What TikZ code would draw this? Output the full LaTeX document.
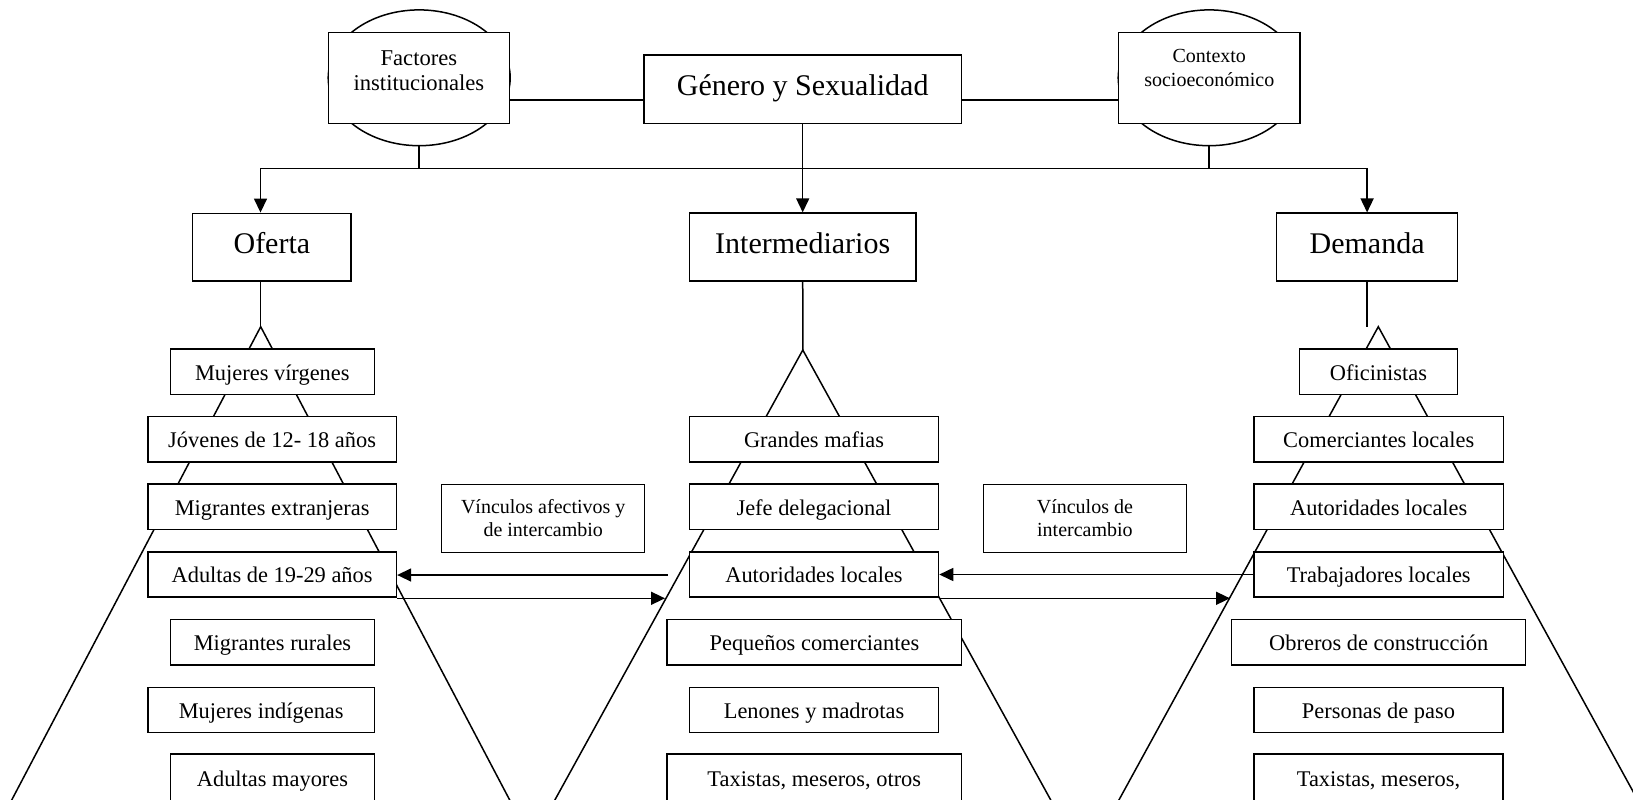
\documentclass[tikz,border=0pt]{standalone}
\usepackage{fontspec}
\setmainfont{Liberation Serif}
\usetikzlibrary{graphs}
\usetikzlibrary{arrows.meta}
\usetikzlibrary{shapes.geometric}

\tikzset{
    >={Triangle[length=7pt,width=6.5pt]},
    caja/.style={draw, fill=white, inner sep=1pt, minimum width=#1,
                 minimum height=22.6pt, text height=10pt, text depth=1.6pt,
                 font=\fontsize{11.2}{13}\selectfont},
    grande/.style={draw, fill=white, inner sep=1pt, minimum width=#1,
                   minimum height=33.9pt, text height=9pt, text depth=2.4pt,
                   font=\fontsize{15}{18}\selectfont},
    vinculo/.style={draw, fill=white, align=center, minimum width=101.5pt,
                    minimum height=34pt, font=\fontsize{10}{11.7}\selectfont},
    marco/.style={draw, fill=white, minimum width=90.6pt, minimum height=45.3pt},
    circulo/.style={draw, ellipse, minimum width=91pt, minimum height=67.9pt,
                    inner sep=0pt, outer sep=0pt},
    rotulo/.style={anchor=north, align=center, inner sep=0pt}
}

\begin{document}
\begin{tikzpicture}[x=0.5pt, y=-0.5pt, line width=0.75pt]
        \useasboundingbox (0,0) rectangle (1633,799);
        \clip (0,0) rectangle (1633,799);

        \coordinate (apexO) at (260.7, 326.7);
        \coordinate (apexI) at (802.8, 350);
        \coordinate (apexD) at (1378.3, 326.7);
        \coordinate (stemD) at (1367.1, 326.7);

        \draw (-14.6, 850) -- (apexO) -- (536, 850);
        \draw (527.3, 850) -- (apexI) -- (1078.3, 850);
        \draw (1091.5, 850) -- (apexD) -- (1665.1, 850);

        \node[circulo] (elF) at (419.2, 77.8)  {};
        \node[circulo] (elC) at (1209.2, 77.8) {};

        \node[marco, label={[rotulo, yshift=-8.8pt, font=\fontsize{11.3}{12.9}\selectfont]north:Factores\\institucionales}]
            (fac) at (418.9, 78) {};
        \node[marco, label={[rotulo, yshift=-8.5pt, font=\fontsize{10}{11.7}\selectfont]north:Contexto\\socioeconómico}]
            (ctx) at (1209.3, 78) {};
        \node[grande=158.8pt, minimum height=34.2pt] (gen) at (802.7, 89.2) {Género y Sexualidad};

        \node[grande=79.2pt]  (ofe)   at (271.9, 247.2)  {Oferta};
        \node[grande=113.2pt] (inter) at (802.7, 247)    {Intermediarios};
        \node[grande=90.6pt]  (dem)   at (1367.1, 247.1) {Demanda};

        \node[caja=102pt]   (vir)  at (272.3, 371.7) {Mujeres vírgenes};
        \node[caja=124.3pt] (jov)  at (272.1, 439.2) {Jóvenes de 12- 18 años};
        \node[caja=124.3pt] (mext) at (272.1, 506.8) {Migrantes extranjeras};
        \node[caja=124.3pt] (adu)  at (272.1, 574.5) {Adultas de 19-29 años};
        \node[caja=102.2pt] (mrur) at (272.5, 642.2) {Migrantes rurales};
        \node[caja=113.4pt] (mind) at (261.2, 710)   {Mujeres indígenas};
        \node[caja=102.2pt, minimum height=24pt] (amay) at (272.5, 778) {Adultas mayores};

        \node[caja=124.5pt] (maf)  at (814, 439.2)   {Grandes mafias};
        \node[caja=124.5pt] (jefe) at (814, 506.8)   {Jefe delegacional};
        \node[caja=124.5pt] (autI) at (814, 574.5)   {Autoridades locales};
        \node[caja=147.3pt] (peq)  at (814.4, 642.2) {Pequeños comerciantes};
        \node[caja=124.5pt] (len)  at (814, 710)     {Lenones y madrotas};
        \node[caja=147.1pt, minimum height=24pt] (taxI) at (814.3, 778) {Taxistas, meseros, otros};

        \node[caja=79.2pt]  (ofi)  at (1378.5, 371.7) {Oficinistas};
        \node[caja=124.6pt] (com)  at (1378.7, 439.2) {Comerciantes locales};
        \node[caja=124.6pt] (autD) at (1378.7, 506.8) {Autoridades locales};
        \node[caja=124.6pt] (trab) at (1378.7, 574.5) {Trabajadores locales};
        \node[caja=147pt]   (obr)  at (1378.7, 642.2) {Obreros de construcción};
        \node[caja=124.6pt] (per)  at (1378.5, 710)   {Personas de paso};
        \node[caja=124.6pt, minimum height=24pt] (taxD) at (1378.5, 778) {Taxistas, meseros,};

        \node[vinculo] (vaf) at (543.2, 518.3)  {Vínculos afectivos y\\de intercambio};
        \node[vinculo] (vin) at (1084.9, 518.3) {Vínculos de\\intercambio};

        \coordinate (lnk)    at (802.7, 100);
        \coordinate (barO)   at (260.5, 168.3);
        \coordinate (barD)   at (1367.1, 168.3);
        \coordinate (vuelta) at (667.8, 575);
        \coordinate (ida)    at (665, 598.3);
        \coordinate (ida2)   at (1230, 598.3);

        \draw (fac.east |- lnk) -- (gen.west |- lnk);
        \draw (gen.east |- lnk) -- (ctx.west |- lnk);
        \draw (elF.south) -- (elF.south |- barO);
        \draw (elC.south) -- (elC.south |- barO);
        \draw (barO) -- (barD);
        \draw[->] (barO) -- (barO |- ofe.north);
        \graph {(barD) -> (dem)};
        \graph {(gen) -> (inter)};

        \draw (apexO |- ofe.south) -- (apexO);
        \graph {(inter) -- (apexI)};
        \graph {(dem) -- (stemD)};

        \draw[->] (vuelta) -- (vuelta -| adu.east);
        \draw[->] (ida -| adu.east) -- (ida);
        \graph {(trab) -> (autI)};
        \draw[->] (ida2 -| autI.east) -- (ida2);
    \end{tikzpicture}
\end{document}
